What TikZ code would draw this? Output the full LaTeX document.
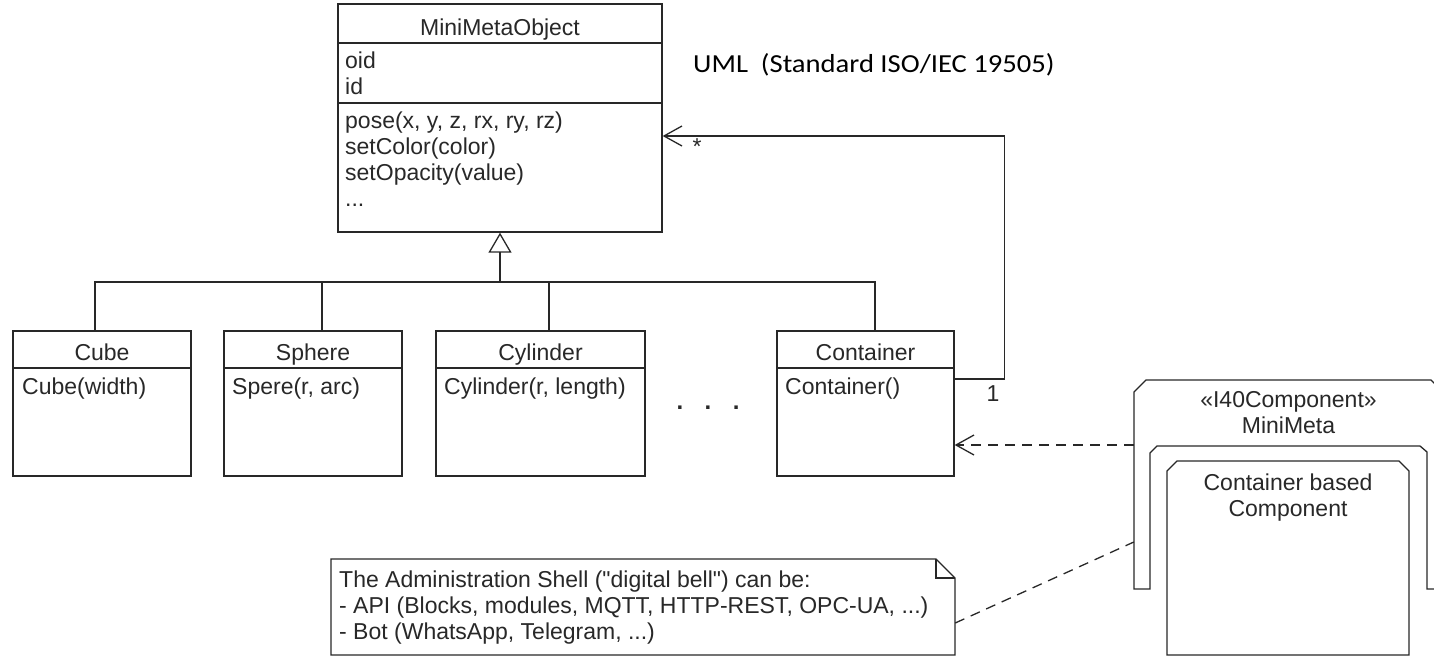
\documentclass[tikz,border=0pt]{standalone}
\usepackage{fontspec}
\setmainfont{Liberation Sans}
\newfontfamily\calib[FakeStretch=1.1]{Carlito}
\usetikzlibrary{arrows.meta,calc}
\definecolor{ink}{RGB}{40,40,40}
\tikzset{
  line/.style={draw=ink, line width=1.3pt, line join=miter},
  box/.style={line, rectangle, inner sep=0, fill=white},
  txt/.style={inner sep=0, text=ink, font=\fontsize{23}{27}\selectfont},
  assoc/.style={line, -{Straight Barb[length=18pt,width=20pt,line width=1.3pt]}},
  depend/.style={line, dash pattern=on 10pt off 7pt, -{Straight Barb[length=18pt,width=20pt,line width=1.3pt]}},
  gen/.style={line, -{Triangle[open,length=20pt,width=23pt,line width=1.3pt]}},
  anchorline/.style={line, dash pattern=on 10pt off 7pt},
}
\begin{document}
\begin{tikzpicture}[x=1pt,y=-1pt]
\useasboundingbox (0,0) rectangle (1434,656);
\fill[white] (0,0) rectangle (1434,656);
\clip (0,0) rectangle (1434,656);

% ---------- MiniMetaObject ----------
\node[box, minimum width=324pt, minimum height=228pt] (mmo) at (500,118) {};
\draw[line] (338,43) -- (662,43);
\draw[line] (338,103) -- (662,103);
\node[txt, anchor=base] (mmoname) at (500,35) {MiniMetaObject};
\node[txt, anchor=base west] (a1) at (345,68) {oid};
\node[txt, anchor=base west] (a2) at (345,94) {id};
\node[txt, anchor=base west] (m1) at (345,128) {pose(x, y, z, rx, ry, rz)};
\node[txt, anchor=base west] (m2) at (345,154) {setColor(color)};
\node[txt, anchor=base west] (m3) at (345,180) {setOpacity(value)};
\node[txt, anchor=base west] (m4) at (345,206) {...};

\node[anchor=base west, inner sep=0, text=black, font=\calib\fontsize{26}{30}\selectfont] (uml) at (693,72) {UML\ \ (Standard ISO/IEC 19505)};

% ---------- subclasses ----------
\node[box, minimum width=178pt, minimum height=145pt] (cube) at (102,403.5) {};
\node[box, minimum width=178pt, minimum height=145pt] (sphere) at (313,403.5) {};
\node[box, minimum width=209pt, minimum height=145pt] (cyl) at (540.5,403.5) {};
\node[box, minimum width=177pt, minimum height=145pt] (cont) at (865.5,403.5) {};
\foreach \a/\b in {13/191,224/402,436/645,777/954} {\draw[line] (\a,368) -- (\b,368);}
\node[txt, anchor=base] (cubename) at (102,360) {Cube};
\node[txt, anchor=base] (spherename) at (313,360) {Sphere};
\node[txt, anchor=base] (cylname) at (540.5,360) {Cylinder};
\node[txt, anchor=base] (contname) at (865.5,360) {Container};
\node[txt, anchor=base west] (cubeop) at (22,394) {Cube(width)};
\node[txt, anchor=base west] (sphereop) at (232,394) {Spere(r, arc)};
\node[txt, anchor=base west] (cylop) at (444,394) {Cylinder(r, length)};
\node[txt, anchor=base west] (contop) at (785,394) {Container()};
\node[txt, anchor=base, font=\bfseries\fontsize{24}{26}\selectfont] (dots) at (708,409) {.\hspace{21.5pt}.\hspace{21.5pt}.};

% ---------- generalization ----------
\coordinate (junc) at (mmo.south |- 0,282);
\draw[line] ([xshift=-7pt]cube.north) |- (junc);
\draw[line] ([xshift=9pt]sphere.north) |- (junc);
\draw[line] ([xshift=8.5pt]cyl.north) |- (junc);
\draw[line] ([xshift=9.5pt]cont.north) |- (junc);
\draw[gen] (junc) -- (mmo.south);

% ---------- association ----------
\draw[assoc] ([yshift=24.5pt]cont.east) -- ++(50,0) |- ([yshift=-18pt]mmo.east);
\node[txt, anchor=center] (star) at (697,147) {*};
\node[txt, anchor=base] (one) at (993,401) {1};

% ---------- component ----------
\node[inner sep=0, minimum width=309pt, minimum height=209pt] (comp) at (1288.5,484.5) {};
\draw[line, fill=white] (1134,589) -- (1134,392) -- (1146,380) -- (1431,380) -- (1443,392) -- (1443,589)
  -- (1427,589) -- (1427,452) -- (1420,446) -- (1157,446) -- (1150,453) -- (1150,589) -- cycle;
\node[txt, anchor=base] (stereo) at (1288.5,407) {«I40Component»};
\node[txt, anchor=base] (compname) at (1288.5,433) {MiniMeta};
\node[inner sep=0, minimum width=242pt, minimum height=194pt] (inner) at (1288,558) {};
\draw[line, fill=white] (1167,655) -- (1167,471) -- (1177,461) -- (1399,461) -- (1409,471) -- (1409,655) -- cycle;
\node[txt, anchor=base] (inner1) at (1288,490) {Container based};
\node[txt, anchor=base] (inner2) at (1288,516) {Component};

\draw[depend] ([yshift=39.5pt]comp.west) -- ([yshift=-41.5pt]cont.east);

% ---------- note ----------
\node[inner sep=0, minimum width=624pt, minimum height=96pt] (note) at (643,607) {};
\draw[line, fill=white] (331,559) -- (936,559) -- (955,578) -- (955,655) -- (331,655) -- cycle;
\draw[line] (936,559) -- (936,578) -- (955,578);
\node[txt, anchor=base west] (n1) at (339,587) {The Administration Shell (\textquotedbl digital bell\textquotedbl) can be:};
\node[txt, anchor=base west] (n2) at (339,613) {- API (Blocks, modules, MQTT, HTTP-REST, OPC-UA, ...)};
\node[txt, anchor=base west] (n3) at (339,639) {- Bot (WhatsApp, Telegram, ...)};
\draw[anchorline] ([yshift=-16pt]note.east) -- ([yshift=-57.5pt]comp.west);
\end{tikzpicture}
\end{document}
